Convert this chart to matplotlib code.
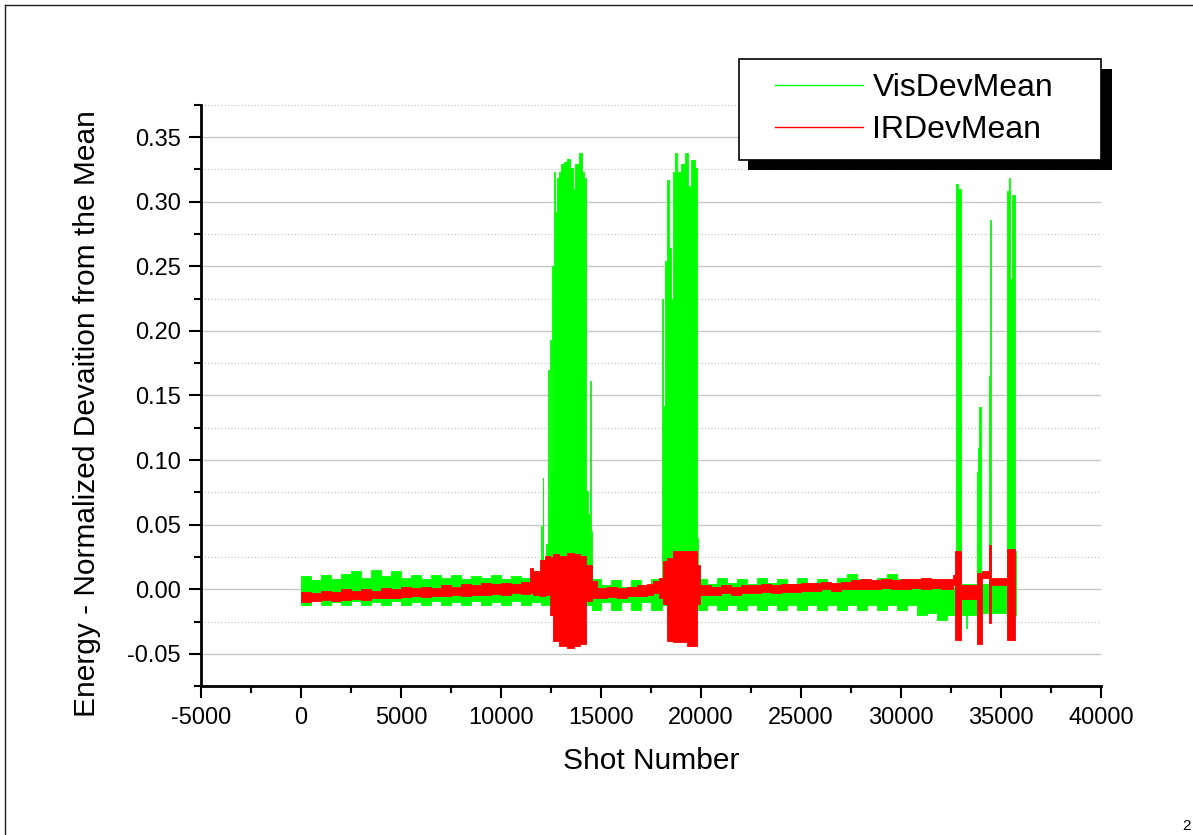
import numpy as np
import matplotlib
matplotlib.use("Agg")
import matplotlib.pyplot as plt
from matplotlib.lines import Line2D
from matplotlib.patches import Rectangle
from matplotlib.ticker import MultipleLocator, FormatStrFormatter

plt.rcParams['font.family'] = ['Liberation Sans', 'DejaVu Sans']
plt.rcParams['axes.unicode_minus'] = False

# VisDevMean envelope (step segments: start shot, max, min)
vis_x = [0, 500, 1000, 1500, 2000, 2500, 3000, 3500, 4000, 4500, 5000, 5500,
         6000, 6500, 7000, 7500, 8000, 8500, 9000, 9500, 10000, 10500, 11000, 11500,
         12000, 12050, 12080, 12120, 12250, 12360, 12400, 12440, 12480, 12560,
         12640, 12720, 12780, 12900, 12990, 13020, 13150, 13300, 13450, 13580,
         13680, 13900, 14050, 14150, 14260, 14330, 14440, 14500,
         14560, 15000, 15500, 16000, 16500, 17000, 17500,
         18040, 18100, 18190, 18280, 18400, 18500, 18580, 18680, 18800, 18980,
         19200, 19350, 19520, 19680, 19790,
         19840, 20300, 20800, 21300, 21800, 22300, 22800, 23300, 23800, 24300,
         24800, 25300, 25800, 26300, 26800, 27300, 27800, 28300, 28800, 29300,
         29800, 30300, 30800, 31300, 31800, 32300,
         32750, 32870, 32990, 33250, 33300, 33810, 33860, 33910, 33990, 34390,
         34430, 34480, 35280, 35420, 35470, 35560, 35700, 35760]
vis_hi = [0.010, 0.007, 0.011, 0.008, 0.012, 0.014, 0.009, 0.015, 0.010, 0.014, 0.009, 0.011,
          0.008, 0.011, 0.009, 0.011, 0.008, 0.010, 0.009, 0.011, 0.008, 0.010, 0.009, 0.011,
          0.049, 0.012, 0.086, 0.012, 0.035, 0.170, 0.060, 0.193, 0.090, 0.250,
          0.323, 0.292, 0.318, 0.323, 0.213, 0.329, 0.331, 0.333, 0.326, 0.310,
          0.329, 0.3376, 0.323, 0.318, 0.076, 0.058, 0.161, 0.045,
          0.008, 0.003, 0.007, 0.002, 0.007, 0.003, 0.008,
          0.225, 0.142, 0.254, 0.317, 0.264, 0.225, 0.323, 0.3376, 0.323, 0.329,
          0.3376, 0.312, 0.332, 0.326, 0.040,
          0.008, 0.004, 0.009, 0.005, 0.008, 0.004, 0.009, 0.005, 0.008, 0.004,
          0.009, 0.005, 0.008, 0.004, 0.009, 0.012, 0.008, 0.005, 0.009, 0.012,
          0.008, 0.005, 0.007, 0.002, 0.006, 0.002,
          0.314, 0.310, 0.004, 0.004, 0.004, 0.091, 0.109, 0.141, 0.004, 0.165,
          0.286, 0.004, 0.308, 0.318, 0.240, 0.305, 0.030, 0.030]
vis_lo = [-0.012, -0.009, -0.012, -0.010, -0.012, -0.009, -0.012, -0.010, -0.012, -0.009, -0.012, -0.010,
          -0.012, -0.009, -0.012, -0.010, -0.012, -0.009, -0.012, -0.010, -0.012, -0.009, -0.012, -0.010,
          -0.012, -0.012, -0.012, -0.012, -0.012, -0.012, -0.012, -0.012, -0.012, -0.012,
          -0.012, -0.012, -0.012, -0.012, -0.012, -0.012, -0.012, -0.012, -0.012, -0.012,
          -0.012, -0.012, -0.012, -0.012, -0.012, -0.012, -0.012, -0.012,
          -0.016, -0.010, -0.016, -0.010, -0.016, -0.010, -0.016,
          -0.012, -0.012, -0.012, -0.012, -0.012, -0.012, -0.012, -0.012, -0.012, -0.012,
          -0.012, -0.012, -0.012, -0.012, -0.012,
          -0.016, -0.012, -0.016, -0.012, -0.016, -0.012, -0.016, -0.012, -0.016, -0.012,
          -0.016, -0.012, -0.016, -0.012, -0.016, -0.012, -0.016, -0.012, -0.016, -0.012,
          -0.016, -0.012, -0.020, -0.018, -0.024, -0.020,
          -0.020, -0.020, -0.020, -0.030, -0.020, -0.020, -0.020, -0.020, -0.018, -0.020,
          -0.020, -0.018, -0.020, -0.020, -0.020, -0.020, -0.020, -0.020]

# IRDevMean envelope
ir_x = [0, 500, 1000, 1500, 2000, 2500, 3000, 3500, 4000, 4500, 5000, 5500,
        6000, 6500, 7000, 7500, 8000, 8500, 9000, 9500, 10000, 10500, 11000,
        11450, 11620, 11950, 12200, 12450, 12620, 12900, 13280, 13650, 13950,
        14250, 14530,
        14800, 15300, 15800, 16300, 16800, 17300, 17600,
        17920, 18120, 18280, 18620, 19280, 19780,
        19950, 20500, 21000, 21500, 22000, 22500, 23000, 23500, 24000, 24500,
        25000, 25500, 26000, 26500, 27000, 27500, 28000, 28500, 29000, 29500,
        30000, 30500, 31000, 31500, 32000,
        32620, 32700, 32980, 33780, 34030, 34420, 34480, 35280, 35700]
ir_hi = [-0.002, -0.003, -0.001, -0.002, 0.000, -0.001, 0.000, -0.001, 0.001, 0.000, 0.002, 0.001,
         0.002, 0.001, 0.003, 0.002, 0.004, 0.003, 0.005, 0.004, 0.005, 0.004, 0.006,
         0.0167, 0.014, 0.023, 0.026, 0.025, 0.027, 0.026, 0.028, 0.027, 0.026,
         0.019, 0.0064,
         0.001, 0.002, 0.001, 0.002, 0.003, 0.004, 0.0064,
         0.009, 0.022, 0.0245, 0.0296, 0.030, 0.019,
         0.003, 0.002, 0.003, 0.002, 0.003, 0.003, 0.004, 0.003, 0.004, 0.004,
         0.005, 0.005, 0.006, 0.005, 0.006, 0.007, 0.008, 0.007, 0.008, 0.007,
         0.008, 0.008, 0.009, 0.008, 0.008,
         0.011, 0.0297, 0.003, 0.0125, 0.0143, 0.034, 0.0085, 0.031, 0.031]
ir_lo = [-0.0095, -0.009, -0.0085, -0.009, -0.008, -0.0075, -0.008, -0.007, -0.0065, -0.007, -0.006, -0.0055,
         -0.006, -0.005, -0.0055, -0.0045, -0.005, -0.004, -0.0045, -0.0035, -0.004, -0.003, -0.0035,
         -0.0026, -0.004, -0.005, -0.004, -0.020, -0.040, -0.044, -0.045, -0.044, -0.0425,
         -0.009, -0.0064,
         -0.0065, -0.006, -0.0065, -0.005, -0.005, -0.004, -0.003,
         -0.0064, -0.0116, -0.040, -0.041, -0.044, -0.0116,
         -0.004, -0.004, -0.003, -0.004, -0.003, -0.003, -0.002, -0.003, -0.002, -0.002,
         -0.001, -0.001, 0.000, -0.001, 0.000, 0.000, 0.000, 0.000, 0.001, 0.000,
         0.000, 0.001, 0.000, 0.001, 0.000,
         0.003, -0.039, -0.0074, -0.042, 0.0085, -0.026, 0.003, -0.039, -0.039]

labels = ['VisDevMean', 'IRDevMean']
colors = ['#00ff00', '#ff0000']

W, H = 1193, 835
fig = plt.figure(figsize=(W / 100, H / 100), dpi=100)
ax = fig.add_axes([201 / W, 1 - 686.3 / H, 900 / W, 581.6 / H])

ax.fill_between(vis_x, vis_lo, vis_hi, step='post', color=colors[0],
                edgecolor=colors[0], lw=0.6, zorder=2)
ax.fill_between(ir_x, ir_lo, ir_hi, step='post', color=colors[1],
                edgecolor=colors[1], lw=0.6, zorder=3)

ax.set_xlim(-5000, 40000)
ax.set_ylim(-0.075, 0.375)
ax.xaxis.set_major_locator(MultipleLocator(5000))
ax.xaxis.set_minor_locator(MultipleLocator(2500))
ax.yaxis.set_major_locator(MultipleLocator(0.05))
ax.yaxis.set_minor_locator(MultipleLocator(0.025))
ax.yaxis.set_major_formatter(FormatStrFormatter('%.2f'))

ax.set_axisbelow(True)
ax.yaxis.grid(True, which='major', color='#c8c8c8', lw=1.0, ls='-')
ax.yaxis.grid(True, which='minor', color='#bdbdbd', lw=0.8, ls=(0, (1, 2)))

for s in ['top', 'right']:
    ax.spines[s].set_visible(False)
for s in ['left', 'bottom']:
    ax.spines[s].set_linewidth(2)
ax.tick_params(which='major', direction='out', length=8.6, width=1.5,
               labelsize=17, pad=6)
ax.tick_params(which='minor', direction='out', length=5, width=1.5)

ax.set_xlabel('Shot Number', fontsize=21.5)
ax.set_ylabel('Energy - Normalized Devaition from the Mean', fontsize=21.5)
ax.xaxis.set_label_coords(0.5, (686.3 - 761) / 581.6)
ax.xaxis.label.set_va('center')
ax.yaxis.set_label_coords((87 - 201) / 900, (686.3 - 414) / 581.6)
ax.yaxis.label.set_va('center')

# legend box with solid black drop shadow
ax.add_patch(Rectangle((748 / W, 1 - 170 / H), 364 / W, 101 / H, transform=fig.transFigure,
                       facecolor='black', edgecolor='none', clip_on=False, zorder=4))
ax.add_patch(Rectangle((739 / W, 1 - 160 / H), 362 / W, 101 / H, transform=fig.transFigure,
                       facecolor='white', edgecolor='black', lw=1.2, clip_on=False, zorder=4.5))
handles = [Line2D([], [], color=c, lw=1.0) for c in colors]
ax.legend(handles, labels, loc='upper left', bbox_to_anchor=(775 / W, 1 - 73 / H),
          bbox_transform=fig.transFigure, frameon=False, fontsize=23,
          handlelength=2.75, handletextpad=0.3, borderpad=0, borderaxespad=0,
          labelspacing=0.38)

# page frame and page number
fig.add_artist(Line2D([4.5 / W, 4.5 / W], [0, 1 - 5 / H], color='#202020', lw=1.0))
fig.add_artist(Line2D([4.5 / W, 1], [1 - 5 / H, 1 - 5 / H], color='#202020', lw=1.0))
fig.text(1182 / W, 1 - 819 / H, '2', fontsize=11, va='top', ha='left')

fig.savefig('out.png', dpi=100)
